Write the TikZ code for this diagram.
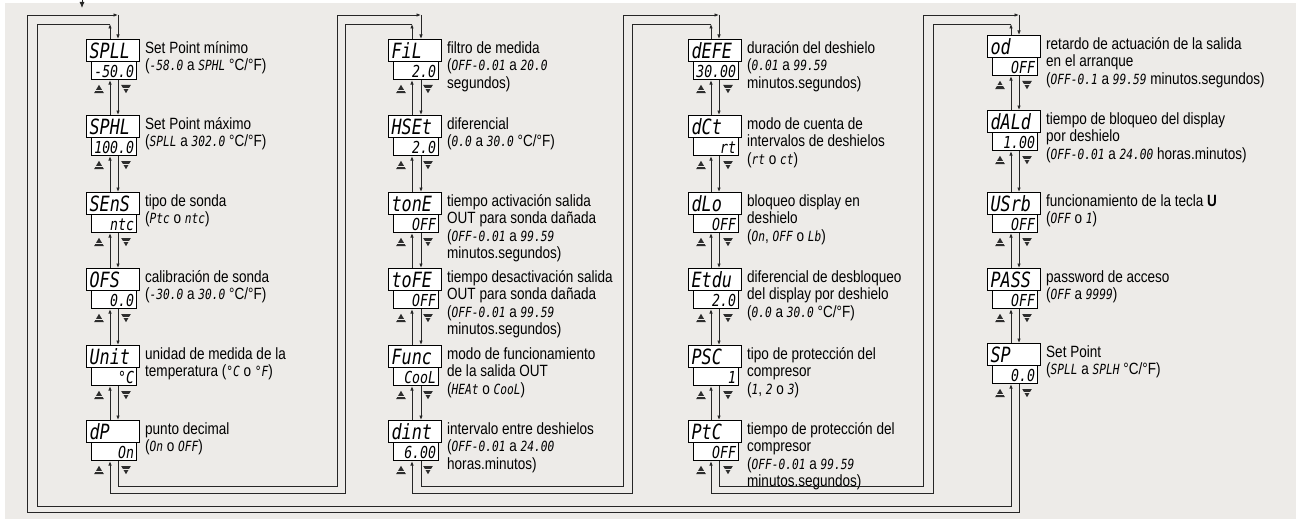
\documentclass[tikz,border=0pt]{standalone}
\usepackage{fontspec}
\setmainfont{Liberation Sans}[FakeStretch=0.83]
\newfontfamily\segf{DejaVu Sans Mono}[FakeStretch=0.8]
\usetikzlibrary{arrows.meta}
\definecolor{bgc}{HTML}{EDEBE8}
\definecolor{linec}{HTML}{262626}
\definecolor{keyc}{HTML}{2E2E2E}
\newcommand\sg[1]{{\segf\itshape\fontsize{14}{17.4}\selectfont #1}}
\newcommand\segbig{\segf\itshape\fontsize{21}{21}\selectfont}
\newcommand\segmid{\segf\itshape\fontsize{16.5}{16.5}\selectfont}
\newcommand\dscfont{\fontsize{16.3}{17.4}\selectfont}
\tikzset{
  ln/.style={draw=linec, line width=0.9pt},
  arr/.style={-{Latex[length=4.5pt,width=3.6pt]}},
  mainbox/.style={draw=black, line width=1.1pt, fill=white, anchor=north west,
    inner xsep=3pt, inner ysep=0pt, text width=47pt, align=left,
    minimum height=22pt, text height=15.5pt, text depth=0pt, font=\segbig},
  valbox/.style={draw=black, line width=1.1pt, fill=white, anchor=north west,
    inner xsep=2.5pt, inner ysep=0pt, text width=40pt, align=right,
    minimum height=18pt, text height=14pt, text depth=0pt, font=\segmid},
  desc/.style={anchor=north west, inner sep=0pt, align=left, font=\dscfont},
  upkey/.pic={\fill[keyc] (-4.8,4)--(4.8,4)--(0,-4.2)--cycle;
              \draw[bgc,line width=0.8pt] (-3.6,0.9)--(3.6,0.9);},
  downkey/.pic={\fill[keyc] (-4.8,-4)--(4.8,-4)--(0,4.2)--cycle;
              \draw[bgc,line width=0.8pt] (-3.6,-0.9)--(3.6,-0.9);}
}
\newcommand\prm[6]{%
  \node[mainbox] (m#1) at (#2,#3) {#4};
  \node[valbox] (v#1) at (#2+5,#3+22) {#5};
  \node[desc] (t#1) at (#2+59,#3+1.8) {\rule{0pt}{12.5pt}#6};
  \pic at (#2+13,#3+50) {upkey};
  \pic at (#2+40,#3+50) {downkey};
}
\begin{document}
\begin{tikzpicture}[x=1pt,y=-1pt]
\useasboundingbox (0,0) rectangle (1296,519);
\fill[bgc] (5,3) rectangle (1296,519);

% line coordinates
\coordinate (yt1) at (0,15);
\coordinate (yt2) at (0,24);
\coordinate (yb1) at (0,486);
\coordinate (yb2) at (0,493);
\coordinate (yb3) at (0,506);
\coordinate (yb4) at (0,512);
\coordinate (u1) at (110,0); \coordinate (d1) at (118,0);
\coordinate (u2) at (412,0); \coordinate (d2) at (421,0);
\coordinate (u3) at (711,0); \coordinate (d3) at (719,0);
\coordinate (u4) at (1011,0); \coordinate (d4) at (1019,0);
\coordinate (L1) at (27,0);  \coordinate (K1) at (37,0);
\coordinate (L2) at (337,0); \coordinate (K2) at (345,0);
\coordinate (L3) at (623,0); \coordinate (K3) at (632,0);
\coordinate (L4) at (923,0); \coordinate (K4) at (933,0);
\coordinate (entry) at (82,0); \coordinate (entryend) at (82,8);

% column 1
\prm{11}{86}{39}{SPLL}{-50.0}{Set Point mínimo\\(\sg{-58.0} a \sg{SPHL} °C/°F)}
\prm{12}{86}{115}{SPHL}{100.0}{Set Point máximo\\(\sg{SPLL} a \sg{302.0} °C/°F)}
\prm{13}{86}{192}{SEnS}{ntc}{tipo de sonda\\(\sg{Ptc} o \sg{ntc})}
\prm{14}{86}{268}{OFS}{0.0}{calibración de sonda\\(\sg{-30.0} a \sg{30.0} °C/°F)}
\prm{15}{86}{345}{Unit}{°C}{unidad de medida de la\\temperatura (\sg{°C} o \sg{°F})}
\prm{16}{86}{420}{dP}{On}{punto decimal\\(\sg{On} o \sg{OFF})}
% column 2
\prm{21}{388}{39}{FiL}{2.0}{filtro de medida\\(\sg{OFF-0.01} a \sg{20.0}\\segundos)}
\prm{22}{388}{115}{HSEt}{2.0}{diferencial\\(\sg{0.0} a \sg{30.0} °C/°F)}
\prm{23}{388}{192}{tonE}{OFF}{tiempo activación salida\\OUT para sonda dañada\\(\sg{OFF-0.01} a \sg{99.59}\\minutos.segundos)}
\prm{24}{388}{268}{toFE}{OFF}{tiempo desactivación salida\\OUT para sonda dañada\\(\sg{OFF-0.01} a \sg{99.59}\\minutos.segundos)}
\prm{25}{388}{345}{Func}{CooL}{modo de funcionamiento\\de la salida OUT\\(\sg{HEAt} o \sg{CooL})}
\prm{26}{388}{420}{dint}{6.00}{intervalo entre deshielos\\(\sg{OFF-0.01} a \sg{24.00}\\horas.minutos)}
% column 3
\prm{31}{688}{39}{dEFE}{30.00}{duración del deshielo\\(\sg{0.01} a \sg{99.59}\\minutos.segundos)}
\prm{32}{688}{115}{dCt}{rt}{modo de cuenta de\\intervalos de deshielos\\(\sg{rt} o \sg{ct})}
\prm{33}{688}{192}{dLo}{OFF}{bloqueo display en\\deshielo\\(\sg{On}, \sg{OFF} o \sg{Lb})}
\prm{34}{688}{268}{Etdu}{2.0}{diferencial de desbloqueo\\del display por deshielo\\(\sg{0.0} a \sg{30.0} °C/°F)}
\prm{35}{688}{345}{PSC}{1}{tipo de protección del\\compresor\\(\sg{1}, \sg{2} o \sg{3})}
\prm{36}{688}{420}{PtC}{OFF}{tiempo de protección del\\compresor\\(\sg{OFF-0.01} a \sg{99.59}\\minutos.segundos)}
% column 4
\prm{41}{987}{35}{od}{OFF}{retardo de actuación de la salida\\en el arranque\\(\sg{OFF-0.1} a \sg{99.59} minutos.segundos)}
\prm{42}{987}{110}{dALd}{1.00}{tiempo de bloqueo del display\\por deshielo\\(\sg{OFF-0.01} a \sg{24.00} horas.minutos)}
\prm{43}{987}{192}{USrb}{OFF}{funcionamiento de la tecla \textbf{U}\\(\sg{OFF} o \sg{1})}
\prm{44}{987}{268}{PASS}{OFF}{password de acceso\\(\sg{OFF} a \sg{9999})}
\prm{45}{987}{343}{SP}{0.0}{Set Point\\(\sg{SPLL} a \sg{SPLH} °C/°F)}

% connectors within columns
\foreach \c/\last in {1/5,2/5,3/5,4/4}{
  \foreach \r in {1,...,\last}{
    \pgfmathtruncatemacro\s{\r+1}
    \draw[ln,arr] (d\c |- v\c\r.south) -- (d\c |- m\c\s.north);
    \draw[ln,arr] (u\c |- m\c\s.north) -- (u\c |- v\c\r.south);
  }
}
% connectors between columns
\foreach \a/\b in {1/2,2/3,3/4}{
  \draw[ln,arr] (d\a |- v\a6.south) |- (L\b |- yb1) |- (d\b |- yt1);
  \draw[ln,arr] (d\b |- yt1) -- (d\b |- m\b1.north);
  \draw[ln,arr] (u\b |- m\b1.north) -- (u\b |- yt2);
  \draw[ln,arr] (u\b |- yt2) -| (K\b |- yb2) -| (u\a |- v\a6.south);
}
% loop back
\draw[ln,arr] (d4 |- v45.south) |- (L1 |- yb4) |- (d1 |- yt1);
\draw[ln,arr] (d1 |- yt1) -- (d1 |- m11.north);
\draw[ln,arr] (u1 |- m11.north) -- (u1 |- yt2);
\draw[ln,arr] (u1 |- yt2) -| (K1 |- yb3) -| (u4 |- v45.south);
% entry
\draw[ln,-{Latex[length=6pt,width=5pt]}] (entry) -- (entryend);
\end{tikzpicture}
\end{document}
